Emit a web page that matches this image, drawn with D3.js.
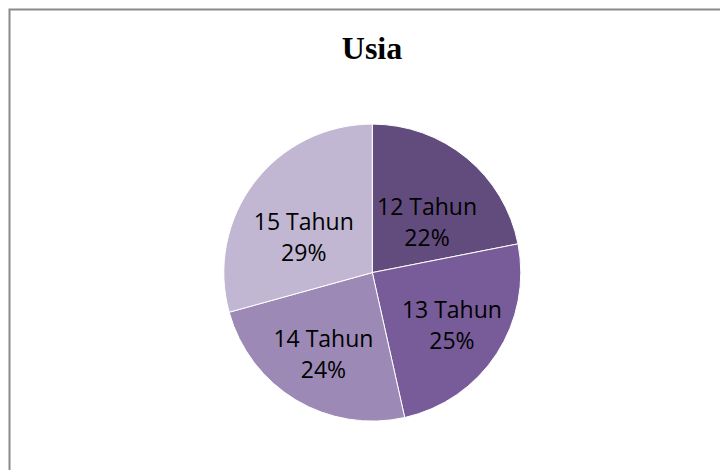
<!DOCTYPE html>
<html>
<head>
<meta charset="utf-8">
<script src="https://cdn.jsdelivr.net/npm/d3@7"></script>
<style>
  html, body { margin: 0; padding: 0; background: #fff; }
  svg { display: block; }
</style>
</head>
<body>
<svg id="chart" width="720" height="470"></svg>
<script>
const title = "Usia";
const categories = ["12 Tahun", "13 Tahun", "14 Tahun", "15 Tahun"];
const values = [21.9, 24.6, 24.2, 29.3];
const colors = ["#624C7D", "#785C99", "#9C89B5", "#C1B7D3"];

const svg = d3.select("#chart");
const W = 720, H = 470;

// chart frame (extends past right/bottom edges)
svg.append("rect")
  .attr("x", 9.5).attr("y", 9.5)
  .attr("width", W + 20).attr("height", H + 20)
  .attr("fill", "#fff")
  .attr("stroke", "#8a8a8a")
  .attr("stroke-width", 2);

svg.append("text")
  .attr("x", 372).attr("y", 59)
  .attr("text-anchor", "middle")
  .attr("font-family", "'Liberation Serif', 'Times New Roman', serif")
  .attr("font-weight", "bold")
  .attr("font-size", 32)
  .attr("fill", "#000")
  .text(title);

const cx = 372.3, cy = 272.6, r = 148.5;
const data = categories.map((c, i) => ({ name: c, value: values[i], color: colors[i] }));
const total = d3.sum(values);

const pie = d3.pie().value(d => d.value).sort(null);
const arc = d3.arc().innerRadius(0).outerRadius(r);
const upperArc = d3.arc().innerRadius(r * 0.58).outerRadius(r * 0.58);
const lowerArc = d3.arc().innerRadius(r * 0.64).outerRadius(r * 0.64);

const g = svg.append("g").attr("transform", `translate(${cx},${cy})`);
const arcs = pie(data);

g.selectAll("path.slice")
  .data(arcs)
  .enter().append("path")
  .attr("class", "slice")
  .attr("d", arc)
  .attr("fill", d => d.data.color)
  .attr("stroke", "#fff")
  .attr("stroke-width", 1);

function labelPos(d) {
  const mid = (d.startAngle + d.endAngle) / 2;
  const upper = Math.cos(mid) > 0;
  const p = (upper ? upperArc : lowerArc).centroid(d);
  return [p[0], p[1] + (upper ? 16 : 0)];
}

const lab = g.selectAll("text.lbl")
  .data(arcs)
  .enter().append("text")
  .attr("class", "lbl")
  .attr("transform", d => `translate(${labelPos(d)})`)
  .attr("text-anchor", "middle")
  .attr("font-family", "'Open Sans', 'Noto Sans', sans-serif")
  .attr("font-size", 23)
  .attr("fill", "#000");

lab.append("tspan")
  .attr("x", 0).attr("dy", "-0.3em")
  .text(d => d.data.name);
lab.append("tspan")
  .attr("x", 0).attr("dy", "1.35em")
  .text(d => Math.round(d.data.value / total * 100) + "%");
</script>
</body>
</html>
